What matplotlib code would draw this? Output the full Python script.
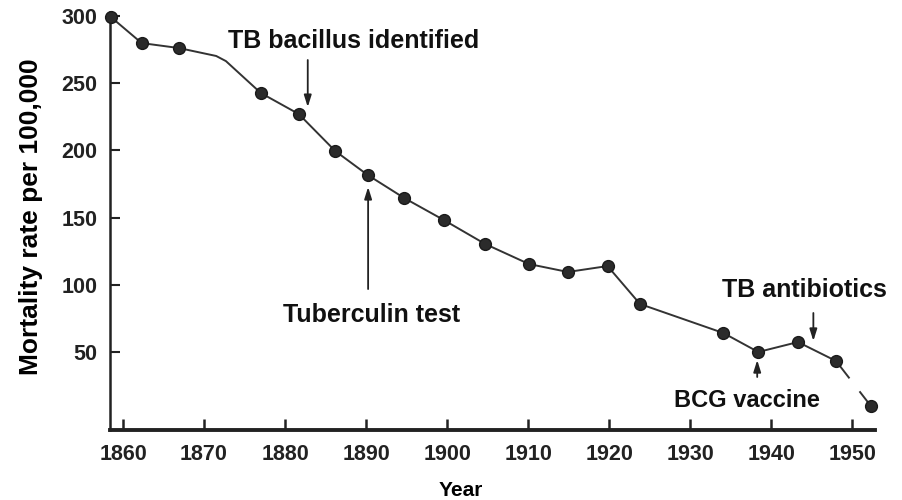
import matplotlib
matplotlib.use("Agg")
import matplotlib.pyplot as plt
import numpy as np

plt.rcParams['font.family'] = ['Liberation Sans', 'DejaVu Sans']
plt.rcParams['font.weight'] = 'bold'
plt.rcParams['lines.scale_dashes'] = False

# Data
years = [1858.5, 1862.3, 1866.9, 1871.5, 1872.7, 1877.0, 1881.7, 1886.2, 1890.2,
         1894.7, 1899.6, 1904.7, 1910.1, 1914.9, 1919.8, 1923.8, 1934.1, 1938.4,
         1943.3, 1948.0, 1952.3]
rates = [299.2, 279.8, 276.1, 270.2, 266.4, 242.7, 227.0, 199.5, 181.7,
         164.6, 148.2, 130.4, 115.5, 109.6, 114.0, 85.8, 64.2, 50.1,
         57.5, 43.4, 9.9]
marked = [True, True, True, False, False, True, True, True, True,
          True, True, True, True, True, True, True, True, True,
          True, True, True]

xticks = [1860, 1870, 1880, 1890, 1900, 1910, 1920, 1930, 1940, 1950]
yticks = [50, 100, 150, 200, 250, 300]

events = ["TB bacillus identified", "Tuberculin test", "BCG vaccine", "TB antibiotics"]

fig = plt.figure(figsize=(9.02, 5.0), dpi=100)
ax = fig.add_axes([0.122, 0.14, 0.848, 0.836])

line_col = '#333333'
mk_col = '#2b2b2b'

# main line (solid) up to second-to-last point
ax.plot(years[:-1], rates[:-1], color=line_col, lw=1.4, zorder=2)
# last segment, broken
ax.plot(years[-2:], rates[-2:], color=line_col, lw=1.4, zorder=2,
        linestyle=(0, (15.8, 11.8, 40, 1)))
# markers
mx = [y for y, m in zip(years, marked) if m]
my = [r for r, m in zip(rates, marked) if m]
ax.plot(mx, my, linestyle='none', marker='o', markersize=8.5,
        color=mk_col, markeredgecolor='#1a1a1a', zorder=3, clip_on=False)

ax.set_xlim(1858.4, 1952.8)
ax.set_ylim(-7.9, 302.9)

for s in ['top', 'right']:
    ax.spines[s].set_visible(False)
ax.spines['left'].set_linewidth(1.8)
ax.spines['bottom'].set_linewidth(2.8)
ax.spines['left'].set_color('#222222')
ax.spines['bottom'].set_color('#222222')

ax.set_xticks(xticks)
ax.set_yticks(yticks)
ax.set_xticklabels([str(t) for t in xticks])
ax.set_yticklabels([str(t) for t in yticks])
ax.tick_params(axis='x', direction='in', length=8, width=1.8, pad=10,
               labelsize=15.5, colors='#222222')
ax.tick_params(axis='y', direction='in', length=7, width=1.5, pad=9,
               labelsize=15.5, colors='#222222')
for lab in ax.get_xticklabels() + ax.get_yticklabels():
    lab.set_fontweight('bold')

ax.set_xlabel("Year", fontsize=15, fontweight='bold')
ax.xaxis.set_label_coords(0.459, -0.122)
ax.set_ylabel("Mortality rate per 100,000", fontsize=19, fontweight='bold')
ax.yaxis.set_label_coords(-0.087, 0.51)

arrow_kw = dict(arrowstyle='-|>,head_length=0.7,head_width=0.22', color='#222222',
                lw=1.3, shrinkA=0, shrinkB=0)

# TB bacillus identified
ax.text(1872.96, 281.3, events[0], fontsize=18, fontweight='bold',
        ha='left', va='center', color='#111111')
ax.annotate('', xy=(1882.8, 232.2), xytext=(1882.8, 267.2), arrowprops=arrow_kw)

# Tuberculin test
ax.text(1879.75, 77.6, events[1], fontsize=18, fontweight='bold',
        ha='left', va='center', color='#111111')
ax.annotate('', xy=(1890.25, 172.8), xytext=(1890.25, 96.9), arrowprops=arrow_kw)

# BCG vaccine
ax.text(1928.0, 14.4, events[2], fontsize=17, fontweight='bold',
        ha='left', va='center', color='#111111')
ax.annotate('', xy=(1938.27, 44.1), xytext=(1938.27, 31.5), arrowprops=arrow_kw)

# TB antibiotics
ax.text(1933.95, 96.2, events[3], fontsize=18, fontweight='bold',
        ha='left', va='center', color='#111111')
ax.annotate('', xy=(1945.2, 58.3), xytext=(1945.2, 79.1), arrowprops=arrow_kw)

fig.savefig("out.png", dpi=100, facecolor='white')
